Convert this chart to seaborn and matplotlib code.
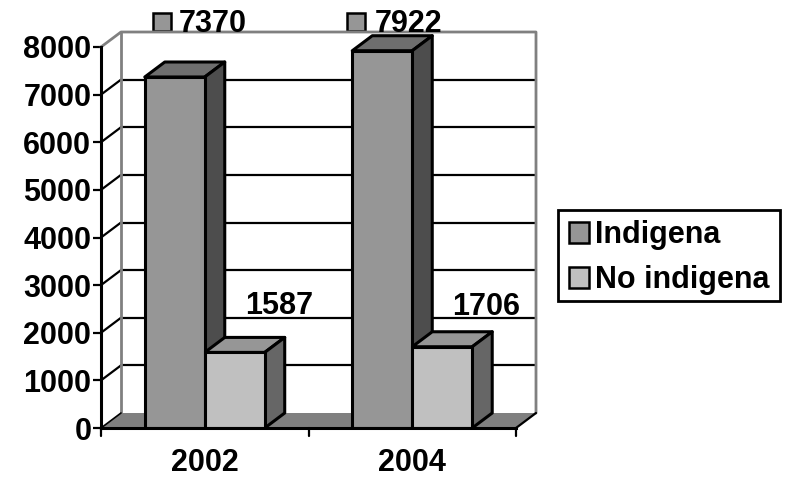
import pandas as pd
import matplotlib
matplotlib.use('Agg')
import matplotlib.pyplot as plt
from matplotlib.patches import Polygon, Patch, Rectangle
import seaborn as sns

# Data
years = ['2002', '2004']
indigena = [7370, 7922]
no_indigena = [1587, 1706]
series_names = ['Indigena', 'No indigena']
y_ticks = [0, 1000, 2000, 3000, 4000, 5000, 6000, 7000, 8000]

df = pd.DataFrame({
    'year': years * 2,
    'value': indigena + no_indigena,
    'group': [series_names[0]] * 2 + [series_names[1]] * 2,
})

sns.set_theme(style='white')
plt.rcParams['font.family'] = ['Liberation Sans', 'DejaVu Sans']
plt.rcParams['font.weight'] = 'bold'

W, H = 785, 478
fig = plt.figure(figsize=(W / 100, H / 100), dpi=100, facecolor='white')
# front plane of the fake 3d box, in pixels
left, right, top, bottom = 101, 516, 47, 428
ax = fig.add_axes([left / W, 1 - bottom / H, (right - left) / W, (bottom - top) / H])
px_x = 2 / (right - left)
px_y = 8000 / (bottom - top)

front_colors = ['#969696', '#c0c0c0']
top_colors = ['#6e6e6e', '#969696']
side_colors = ['#4d4d4d', '#666666']
black = '#000000'
wall = '#808080'

sns.barplot(data=df, x='year', y='value', hue='group', hue_order=series_names,
            palette=front_colors, width=0.578, gap=0, saturation=1,
            edgecolor=black, linewidth=2.2, legend=False, ax=ax, zorder=5)

ax.set_xlim(-0.5, 1.5)
ax.set_ylim(0, 8000)
ax.set_xlabel('')
ax.set_ylabel('')

# depth of the box as data offsets
dx = 20 * px_x
dy = 15 * px_y
x0, x1 = ax.get_xlim()


def face(points, color, edge='none', lw=0, z=1):
    ax.add_patch(Polygon(points, closed=True, facecolor=color, edgecolor=edge,
                         linewidth=lw, clip_on=False, zorder=z, joinstyle='round'))


# floor
face([(x0, 0), (x0 + dx, dy), (x1 + dx, dy), (x1, 0)], wall, z=1)

# back wall grid and side wall lines
for t in y_ticks[1:-1]:
    ax.plot([x0 + dx, x1 + dx], [t + dy, t + dy], color=black, lw=1.6, clip_on=False, zorder=2)
    ax.plot([x0, x0 + dx], [t, t + dy], color=black, lw=1.6, clip_on=False, zorder=2)
ax.plot([x0, x0 + dx, x1 + dx, x1 + dx], [8000, 8000 + dy, 8000 + dy, dy],
        color=wall, lw=2, clip_on=False, zorder=2)
ax.plot([x0 + dx, x0 + dx], [dy, 8000 + dy], color=wall, lw=2, clip_on=False, zorder=2)
ax.plot([x1, x1 + dx], [0, dy], color=black, lw=1.6, clip_on=False, zorder=2)
ax.plot([x0, x0 + dx], [0, dy], color=black, lw=1.2, clip_on=False, zorder=2)

# top and side of every bar, worked out from the bars seaborn drew
bars = [p for c in ax.containers for p in c]
for i, bar in enumerate(bars):
    s = i // len(years)
    a, b, h = bar.get_x(), bar.get_x() + bar.get_width(), bar.get_height()
    face([(a, h), (a + dx, h + dy), (b + dx, h + dy), (b, h)], top_colors[s], black, 2.2, 3 + s)
    face([(b, 0), (b + dx, dy), (b + dx, h + dy), (b, h)], side_colors[s], black, 2.2, 3 + s)

# value labels, the tall bars carry their legend key
key_shift = [-13, -26]
text_shift = [38, 26]
low_shift = [(44, 46), (44, 40)]
for i, bar in enumerate(bars):
    val = int(bar.get_height())
    cx = bar.get_x() + bar.get_width() / 2
    if i < len(years):
        ax.text(cx + text_shift[i] * px_x, 8490, str(val), fontsize=22, fontweight='bold',
                color=black, ha='center', va='center', clip_on=False, zorder=8)
        ax.plot([cx + key_shift[i] * px_x], [8525], marker='s', ms=13, mfc=front_colors[0], mec=black,
                mew=1.8, clip_on=False, zorder=1)
    else:
        sx, sy = low_shift[i - len(years)]
        ax.text(cx + sx * px_x, val + sy * px_y, str(val), fontsize=22, fontweight='bold',
                color=black, ha='center', va='center', clip_on=False, zorder=8)

# axes
ax.set_yticks(y_ticks)
ax.set_yticklabels([str(t) for t in y_ticks], fontsize=22, fontweight='bold', color=black)
ax.set_xticks([0, 1])
ax.set_xticklabels(years, fontsize=22, fontweight='bold', color=black)
ax.tick_params(axis='y', left=True, length=6, width=1.6, color=black, pad=1)
ax.tick_params(axis='x', bottom=False, pad=8.5)
for x in [x0, 0.5, x1]:
    ax.plot([x, x], [0, -8 * px_y], color=black, lw=1.6, clip_on=False, zorder=6)
sns.despine(ax=ax, top=True, right=True)
ax.patch.set_alpha(0)
for side in ['left', 'bottom']:
    ax.spines[side].set_color(black)
    ax.spines[side].set_linewidth(2.2)
    ax.spines[side].set_zorder(7)

# legend box drawn apart, its padding differs across and down
fig.add_artist(Rectangle((558 / W, 1 - 301 / H), 222 / W, 91 / H, transform=fig.transFigure,
                         facecolor='white', edgecolor=black, linewidth=2))
handles = [Patch(facecolor=c, edgecolor=black, linewidth=1.8, label=n)
           for c, n in zip(front_colors, series_names)]
leg = fig.legend(handles=handles, loc='upper left', bbox_to_anchor=(558 / W, 1 - 209 / H),
                 bbox_transform=fig.transFigure, prop={'size': 22, 'weight': 'bold'},
                 frameon=False, handlelength=0.66, handleheight=0.66, handletextpad=0.2,
                 labelspacing=0.5, borderpad=0.36, borderaxespad=0)
for txt in leg.get_texts():
    txt.set_color(black)

fig.savefig('out.png', dpi=100)
